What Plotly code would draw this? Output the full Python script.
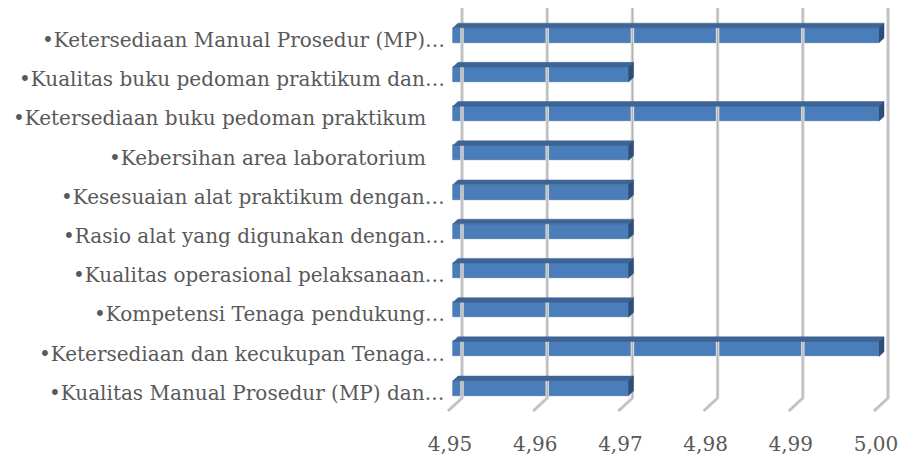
import plotly.graph_objects as go

# Survey items, listed bottom to top as they appear on the category axis
categories = [
    "•Kualitas Manual Prosedur (MP) dan…",
    "•Ketersediaan dan kecukupan Tenaga…",
    "•Kompetensi Tenaga pendukung…",
    "•Kualitas operasional pelaksanaan…",
    "•Rasio alat yang digunakan dengan…",
    "•Kesesuaian alat praktikum dengan…",
    "•Kebersihan area laboratorium\u00a0\u00a0\u00a0",
    "•Ketersediaan buku pedoman praktikum\u00a0\u00a0\u00a0",
    "•Kualitas buku pedoman praktikum dan…",
    "•Ketersediaan Manual Prosedur (MP)…",
]
scores = [4.9706, 5.00, 4.9706, 4.9706, 4.9706, 4.9706, 4.9706, 5.00, 4.9706, 5.00]

x_ticks = [4.95, 4.96, 4.97, 4.98, 4.99, 5.00]
x_tick_labels = ["4,95", "4,96", "4,97", "4,98", "4,99", "5,00"]

X_BASE = 4.95

# ---- pseudo-3D geometry (screen pixels per data unit, depth offsets) ----
W, H = 899, 456
M_L, M_R, M_T, M_B = 440, 4, 0, 36
PX_X = 8520.0           # pixels per score unit
PX_Y = 39.4             # pixels per category step
FRONT_ROW0 = 390.0      # screen y of the first row's front face centre
SLOPE = 0.93            # vertical rise per pixel of depth
BAR_DEPTH = 5.0         # front -> back of a bar
BAR_H = 15.0            # height of a bar's front face (px)
WALL_DEPTH = 14.0       # floor front edge -> back wall
FLOOR_FRONT_Y = 413.0
WALL_TOP_Y = 8.0

plot_w = W - M_L - M_R
plot_h = H - M_T - M_B
x_range = [X_BASE - 13 / PX_X, X_BASE - 13 / PX_X + plot_w / PX_X]
y_range = [(FRONT_ROW0 - plot_h) / PX_Y, FRONT_ROW0 / PX_Y]


def sy(screen_y):
    """screen y (px from top) -> data y"""
    return (FRONT_ROW0 - screen_y) / PX_Y


def at_depth(v, d):
    """data x of value v at depth d (0 = floor front edge, 5 = bar front)"""
    return v + (d - BAR_DEPTH) / PX_X


fig = go.Figure()

# back-wall gridlines that bend onto the floor
gx, gy = [], []
for v in x_ticks:
    gx += [at_depth(v, 0), at_depth(v, WALL_DEPTH), at_depth(v, WALL_DEPTH), None]
    gy += [sy(FLOOR_FRONT_Y), sy(FLOOR_FRONT_Y - WALL_DEPTH * SLOPE), sy(WALL_TOP_Y), None]
fig.add_trace(go.Scatter(x=gx, y=gy, mode="lines", hoverinfo="skip",
                         line=dict(color="#d9d9d9", width=3.5), showlegend=False))
fig.add_trace(go.Scatter(x=gx, y=gy, mode="lines", hoverinfo="skip",
                         line=dict(color="#b3b3b3", width=1.2), showlegend=False))

idx = list(range(len(categories)))
h = BAR_H / PX_Y
dxb = BAR_DEPTH / PX_X
dyb = BAR_DEPTH * SLOPE / PX_Y

# front faces
fig.add_trace(go.Bar(
    y=idx, x=[s - X_BASE for s in scores], base=X_BASE, orientation="h",
    width=h, marker=dict(color="#4a7ebb", line=dict(color="#3f6ea6", width=0.6)),
    showlegend=False, hoverinfo="skip",
))

# top faces
tx, ty = [], []
for i, s in zip(idx, scores):
    top = i + h / 2
    tx += [X_BASE, s, s + dxb, X_BASE + dxb, X_BASE, None]
    ty += [top, top, top + dyb, top + dyb, top, None]
fig.add_trace(go.Scatter(x=tx, y=ty, fill="toself", mode="lines",
                         fillcolor="#3d6494", line=dict(color="#3d6494", width=0.5),
                         hoverinfo="skip", showlegend=False))

# side (end) faces
ex, ey = [], []
for i, s in zip(idx, scores):
    top, bot = i + h / 2, i - h / 2
    ex += [s, s, s + dxb, s + dxb, s, None]
    ey += [bot, top, top + dyb, bot + dyb, bot, None]
fig.add_trace(go.Scatter(x=ex, y=ey, fill="toself", mode="lines",
                         fillcolor="#2f4e78", line=dict(color="#2f4e78", width=0.5),
                         hoverinfo="skip", showlegend=False))

# category labels, aligned to the floor front edge
label_font = dict(family="DejaVu Serif", size=20, color="#595959")
for i, name in zip(idx, categories):
    fig.add_annotation(x=at_depth(X_BASE, -1), y=i - BAR_DEPTH * SLOPE / PX_Y,
                       text=name, showarrow=False, xanchor="right", yanchor="middle",
                       font=label_font)

fig.update_layout(
    width=W, height=H,
    margin=dict(l=M_L, r=M_R, t=M_T, b=M_B),
    paper_bgcolor="white", plot_bgcolor="white",
    bargap=0,
    xaxis=dict(range=x_range, showgrid=False, zeroline=False, showline=False,
               tickvals=[at_depth(v, 2) for v in x_ticks], ticktext=x_tick_labels,
               tickfont=label_font, ticks="", ticklabelstandoff=12),
    yaxis=dict(range=y_range, showgrid=False, zeroline=False, showline=False,
               showticklabels=False),
)

fig.write_html("out.html")
